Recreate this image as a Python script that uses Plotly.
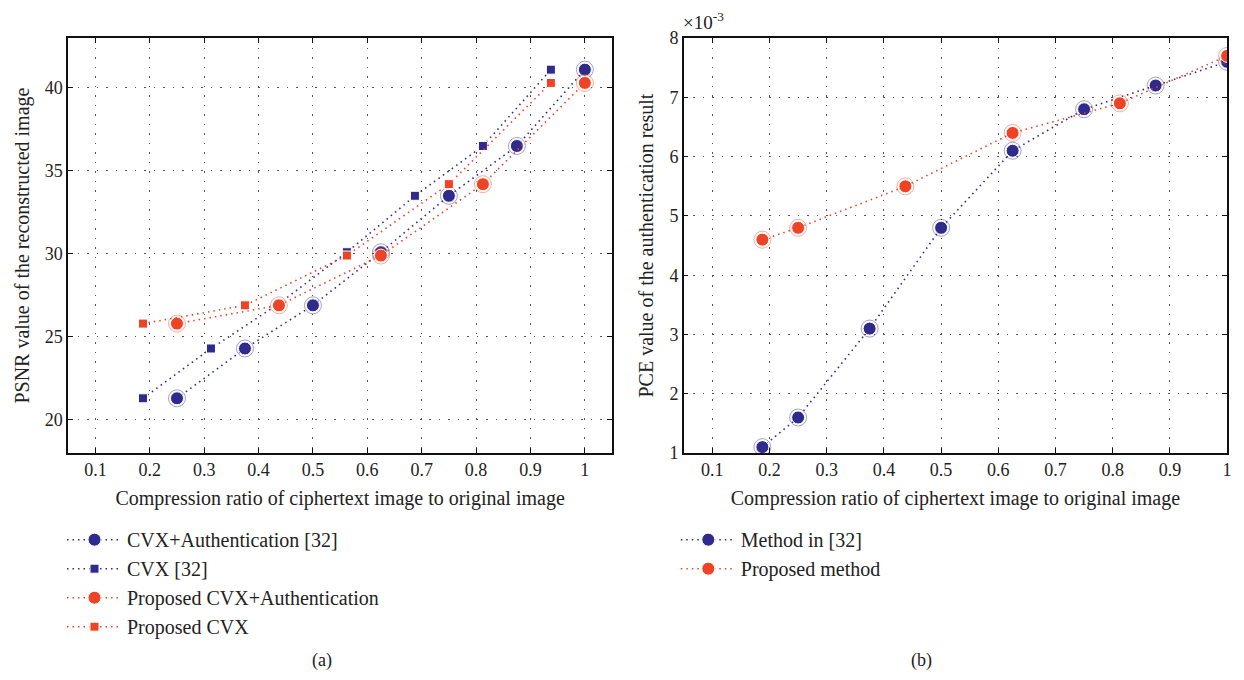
import plotly.graph_objects as go

# ---------------- data: panel (a) ----------------
x_auth32 = [0.25, 0.375, 0.5, 0.625, 0.75, 0.875, 1.0]
y_auth32 = [21.3, 24.3, 26.9, 30.1, 33.5, 36.5, 41.1]

x_cvx32 = [0.1875, 0.3125, 0.4375, 0.5625, 0.6875, 0.8125, 0.9375]
y_cvx32 = [21.3, 24.3, 27.0, 30.1, 33.5, 36.5, 41.1]

x_prop_auth = [0.25, 0.4375, 0.625, 0.8125, 1.0]
y_prop_auth = [25.8, 26.9, 29.9, 34.2, 40.3]

x_prop_cvx = [0.1875, 0.375, 0.5625, 0.75, 0.9375]
y_prop_cvx = [25.8, 26.9, 29.9, 34.2, 40.3]

# ---------------- data: panel (b) (values in units of 1e-3) ----------------
x_method32 = [0.1875, 0.25, 0.375, 0.5, 0.625, 0.75, 0.875, 1.0]
y_method32 = [1.1, 1.6, 3.1, 4.8, 6.1, 6.8, 7.2, 7.6]

x_proposed = [0.1875, 0.25, 0.4375, 0.625, 0.8125, 1.0]
y_proposed = [4.6, 4.8, 5.5, 6.4, 6.9, 7.7]

x_ticks = [0.1, 0.2, 0.3, 0.4, 0.5, 0.6, 0.7, 0.8, 0.9, 1.0]
x_ticktext = ["0.1", "0.2", "0.3", "0.4", "0.5", "0.6", "0.7", "0.8", "0.9", "1"]
ya_ticks = [20, 25, 30, 35, 40]
yb_ticks = [1, 2, 3, 4, 5, 6, 7, 8]

BLUE = "#2f2a8c"
ORANGE = "#ee4324"
FONT = "Liberation Serif"
TXT = "#222"

fig = go.Figure()


def add_series(x, y, color, symbol, size, name, xa, ya, legend):
    if symbol == "circle":
        fig.add_trace(go.Scatter(
            x=x, y=y, mode="markers", xaxis=xa, yaxis=ya, showlegend=False,
            hoverinfo="skip",
            marker=dict(symbol="circle-open", size=size + 4, color=color,
                        line=dict(width=0.8, color=color), opacity=0.55)))
    fig.add_trace(go.Scatter(
        x=x, y=y, mode="lines+markers", name=name, xaxis=xa, yaxis=ya,
        legend=legend,
        line=dict(color=color, width=1.6, dash="1.5px,4px"),
        marker=dict(symbol=symbol, size=size, color=color,
                    line=dict(width=1, color="white"))))


add_series(x_auth32, y_auth32, BLUE, "circle", 13, "CVX+Authentication [32]", "x", "y", "legend")
add_series(x_cvx32, y_cvx32, BLUE, "square", 9, "CVX [32]", "x", "y", "legend")
add_series(x_prop_auth, y_prop_auth, ORANGE, "circle", 13, "Proposed CVX+Authentication", "x", "y", "legend")
add_series(x_prop_cvx, y_prop_cvx, ORANGE, "square", 9, "Proposed CVX", "x", "y", "legend")

add_series(x_method32, y_method32, BLUE, "circle", 13, "Method in [32]", "x2", "y2", "legend2")
add_series(x_proposed, y_proposed, ORANGE, "circle", 13, "Proposed method", "x2", "y2", "legend2")

axis_common = dict(
    showline=True, linecolor="#111", linewidth=1.5, mirror="ticks",
    ticks="inside", ticklen=5, tickcolor="#111", tickwidth=1,
    showgrid=True, gridcolor="#555", gridwidth=1, griddash="1.5px,8px",
    zeroline=False, tickfont=dict(family=FONT, size=18, color=TXT),
)
title_font = dict(family=FONT, size=20, color=TXT)

fig.update_layout(
    width=1244, height=680,
    margin=dict(l=0, r=0, t=0, b=0),
    paper_bgcolor="white", plot_bgcolor="white",
    font=dict(family=FONT, color=TXT),
    xaxis=dict(domain=[0.055, 0.4936], range=[0.05, 1.05], tickvals=x_ticks,
               ticktext=x_ticktext, anchor="y",
               title=dict(text="Compression ratio of ciphertext image to original image",
                          font=title_font, standoff=12),
               **axis_common),
    yaxis=dict(domain=[0.3287, 0.9574], range=[18, 43], tickvals=ya_ticks, anchor="x",
               title=dict(text="PSNR value of the reconstructed image",
                          font=title_font, standoff=10),
               **axis_common),
    xaxis2=dict(domain=[0.5514, 0.9896], range=[0.05, 1.0], tickvals=x_ticks,
                ticktext=x_ticktext, anchor="y2",
                title=dict(text="Compression ratio of ciphertext image to original image",
                           font=title_font, standoff=12),
                **axis_common),
    yaxis2=dict(domain=[0.3287, 0.9574], range=[1, 8], tickvals=yb_ticks, anchor="x2",
                title=dict(text="PCE value of the authentication result",
                           font=title_font, standoff=10),
                **axis_common),
    legend=dict(x=0.05, y=0.227, xanchor="left", yanchor="top",
                font=dict(family=FONT, size=20, color=TXT),
                bgcolor="rgba(0,0,0,0)", itemwidth=55),
    legend2=dict(x=0.545, y=0.227, xanchor="left", yanchor="top",
                 font=dict(family=FONT, size=20, color=TXT),
                 bgcolor="rgba(0,0,0,0)", itemwidth=55),
    showlegend=True,
    annotations=[
        dict(text="(a)", x=0.25, y=0.03, xref="paper", yref="paper", showarrow=False,
             yanchor="middle", yshift=-10, font=dict(family=FONT, size=18, color=TXT)),
        dict(text="(b)", x=0.753, y=0.03, xref="paper", yref="paper", showarrow=False,
             yanchor="middle", yshift=-10, font=dict(family=FONT, size=18, color=TXT)),
        dict(text="×10<sup>-3</sup>", x=0.549, y=0.962, xref="paper", yref="paper",
             xanchor="left", yanchor="bottom", showarrow=False,
             font=dict(family=FONT, size=19, color=TXT)),
    ],
)

fig.write_html("out.html")
